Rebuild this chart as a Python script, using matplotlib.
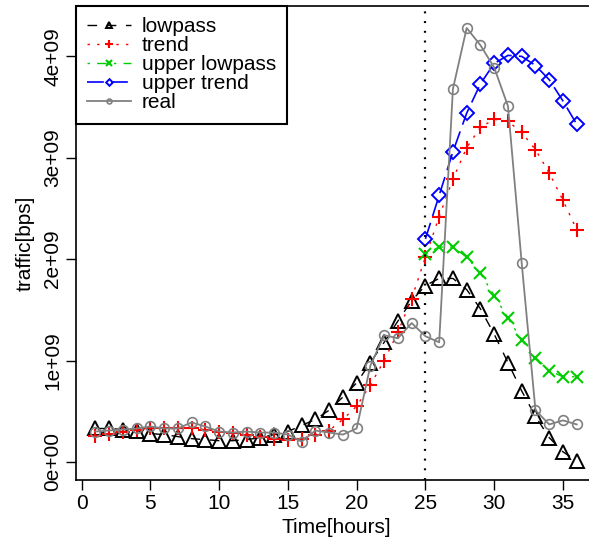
import numpy as np
import matplotlib
matplotlib.use("Agg")
import matplotlib.pyplot as plt

plt.rcParams['font.family'] = ['Liberation Sans', 'DejaVu Sans']
plt.rcParams['lines.scale_dashes'] = False

# hours 1..36
hours = np.arange(1, 37)

# traffic in units of 1e9 bps
lowpass = [0.33, 0.33, 0.32, 0.31, 0.28, 0.27, 0.25, 0.23, 0.22, 0.21, 0.21, 0.22,
           0.24, 0.27, 0.30, 0.36, 0.42, 0.51, 0.64, 0.78, 0.98, 1.18, 1.39, 1.59,
           1.74, 1.81, 1.81, 1.70, 1.51, 1.26, 0.98, 0.70, 0.45, 0.24, 0.10, 0.01]
trend = [0.26, 0.28, 0.30, 0.32, 0.33, 0.33, 0.33, 0.33, 0.32, 0.30, 0.29, 0.27,
         0.25, 0.23, 0.22, 0.23, 0.27, 0.31, 0.42, 0.55, 0.76, 1.00, 1.28, 1.61,
         2.02, 2.42, 2.79, 3.10, 3.30, 3.38, 3.36, 3.25, 3.08, 2.85, 2.58, 2.29]
real = [0.30, 0.31, 0.32, 0.33, 0.35, 0.33, 0.33, 0.39, 0.35, 0.30, 0.29, 0.30,
        0.29, 0.29, 0.27, 0.20, 0.31, 0.29, 0.27, 0.33, 0.95, 1.25, 1.22, 1.37,
        1.24, 1.18, 3.68, 4.28, 4.11, 3.89, 3.51, 1.96, 0.51, 0.37, 0.41, 0.37]
# upper series start at hour 25
upper_hours = np.arange(25, 37)
upper_lowpass = [2.05, 2.12, 2.12, 2.02, 1.86, 1.64, 1.42, 1.20, 1.03, 0.90, 0.84, 0.84]
upper_trend = [2.20, 2.63, 3.06, 3.44, 3.73, 3.93, 4.01, 4.00, 3.91, 3.77, 3.56, 3.33]

scale = 1e9
xticks = [0, 5, 10, 15, 20, 25, 30, 35]
yticks = [0, 1, 2, 3, 4]
ytick_labels = ['0e+00', '1e+09', '2e+09', '3e+09', '4e+09']
split_hour = 25

W, H = 589, 548
fig = plt.figure(figsize=(W / 100, H / 100), dpi=100)
ax = fig.add_axes([76 / W, (H - 480) / H, 520 / W, 474 / H])

u = 1.73  # R line-type unit in points
ax.plot(hours, np.array(lowpass) * scale, color='black', lw=1.0, dashes=(4 * u, 4 * u),
        marker='^', ms=10, mfc='none', mew=1.4, label='lowpass')
ax.plot(hours, np.array(trend) * scale, color='red', lw=1.0, dashes=(1 * u, 3 * u),
        marker='+', ms=10.5, mew=1.5, label='trend')
ax.plot(upper_hours, np.array(upper_lowpass) * scale, color='#00CD00', lw=1.0,
        dashes=(1 * u, 3 * u, 4 * u, 3 * u),
        marker='x', ms=8, mew=1.5, label='upper lowpass')
ax.plot(upper_hours, np.array(upper_trend) * scale, color='blue', lw=1.2,
        dashes=(7 * u, 3 * u),
        marker='D', ms=6.8, mfc='none', mew=1.4, label='upper trend')
ax.plot(hours, np.array(real) * scale, color='#808080', lw=1.3,
        marker='o', ms=7, mfc='none', mew=1.2, label='real')

ax.axvline(split_hour, color='black', lw=1.6, dashes=(1.4, 5.6))

ax.set_xlim(-0.4, 37.4)
ax.set_ylim(-0.178e9, 4.497e9)
ax.set_xticks(xticks)
ax.set_yticks([v * scale for v in yticks])
ax.set_yticklabels(ytick_labels, rotation=90, va='center')
ax.tick_params(direction='out', length=7, width=1, labelsize=15, colors='black', pad=3)
ax.set_xlabel('Time[hours]', fontsize=15, labelpad=4)
ax.set_ylabel('traffic[bps]', fontsize=15, labelpad=6)
for s in ax.spines.values():
    s.set_linewidth(1.2)

leg = ax.legend(loc='upper left', bbox_to_anchor=(0, 1), borderaxespad=0,
                fontsize=15, markerscale=0.5, handlelength=2.1, handletextpad=0.5,
                labelspacing=0.0, borderpad=0.55, fancybox=False,
                framealpha=1, edgecolor='black')
leg.get_frame().set_linewidth(1.5)

fig.savefig('out.png', dpi=100)
